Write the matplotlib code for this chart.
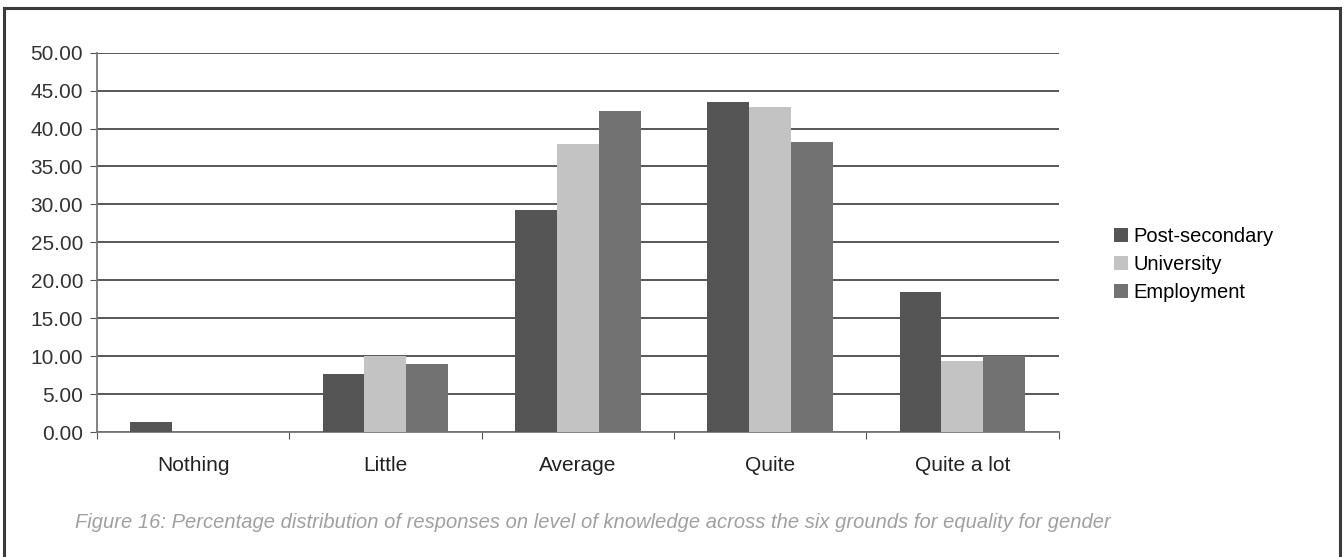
import numpy as np
import matplotlib
matplotlib.use("Agg")
import matplotlib.pyplot as plt
from matplotlib.lines import Line2D

plt.rcParams["font.family"] = ["Liberation Sans", "DejaVu Sans"]

categories = ["Nothing", "Little", "Average", "Quite", "Quite a lot"]
series_names = ["Post-secondary", "University", "Employment"]
post_secondary = [1.3, 7.7, 29.3, 43.5, 18.4]
university = [0.0, 10.0, 38.0, 42.8, 9.3]
employment = [0.0, 9.0, 42.3, 38.2, 10.0]
colors = ["#555555", "#c3c3c3", "#727272"]

caption = ("Figure 16: Percentage distribution of responses on level of knowledge "
           "across the six grounds for equality for gender")

fig = plt.figure(figsize=(13.43, 5.57), dpi=100)
ax = fig.add_axes([0.0722, 0.2244, 0.716, 0.681])

x = np.arange(len(categories))
w = 0.218
for k, (vals, nm) in enumerate(zip([post_secondary, university, employment], series_names)):
    ax.bar(x + (k - 1) * w, vals, width=w, color=colors[k], label=nm, zorder=3)

ax.set_xlim(-0.5, len(categories) - 0.5)
ax.set_ylim(0, 50)
ax.set_yticks(np.arange(0, 50.01, 5))
ax.set_yticklabels([f"{v:.2f}" for v in np.arange(0, 50.01, 5)], fontsize=15, color="#333333")
ax.yaxis.grid(True, color="#4a4a4a", lw=1.3, zorder=1)
ax.set_axisbelow(True)

ax.set_xticks(np.arange(-0.5, len(categories), 1.0))
ax.set_xticklabels([])
ax.set_xticks(x, minor=True)
ax.set_xticklabels(categories, minor=True, fontsize=15, color="#222222")
ax.tick_params(axis="x", which="minor", length=0, pad=17)
ax.tick_params(axis="x", which="major", length=5, direction="out", color="#555555")
ax.tick_params(axis="y", length=5, direction="out", color="#555555", pad=5)

for s in ["top", "right"]:
    ax.spines[s].set_visible(False)
ax.spines["left"].set_color("#777777")
ax.spines["bottom"].set_color("#777777")
ax.spines["left"].set_linewidth(1.3)
ax.spines["bottom"].set_linewidth(1.3)

leg = fig.legend(loc="upper left", bbox_to_anchor=(0.816, 0.625), frameon=False,
                 fontsize=14.5, handlelength=0.7, handleheight=0.7,
                 handletextpad=0.25, labelspacing=0.45)

fig.text(0.056, 0.052, caption, fontsize=14.5, style="italic", color="#a0a0a0")

# page frame lines
frame = dict(color="#3a3a3a", lw=2.2, transform=fig.transFigure)
fig.add_artist(Line2D([0.003, 0.003], [0.0, 0.985], **frame))
fig.add_artist(Line2D([0.003, 0.998], [0.985, 0.985], **frame))
fig.add_artist(Line2D([0.998, 0.998], [0.0, 0.985], **frame))

fig.savefig("out.png", dpi=100, facecolor="white")
